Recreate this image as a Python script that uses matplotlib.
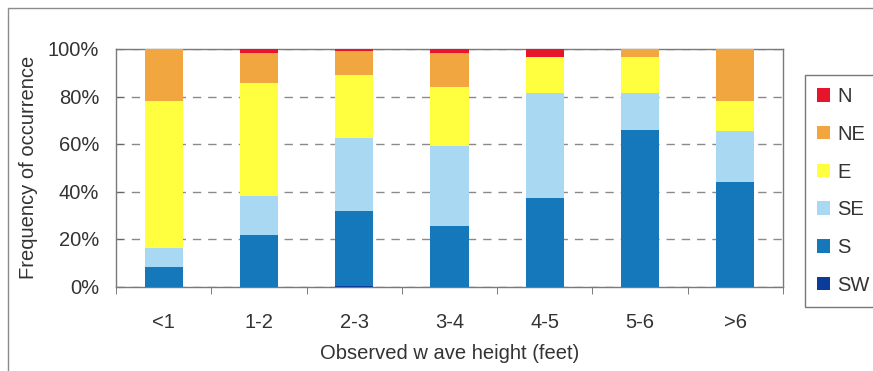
import matplotlib.pyplot as plt
import matplotlib.patches as mpatches
import numpy as np

plt.rcParams['font.family'] = ['Liberation Sans', 'DejaVu Sans']

# wave height classes and share of each wind direction (%)
heights = ["<1", "1-2", "2-3", "3-4", "4-5", "5-6", ">6"]
SW = [0.0, 0.0, 0.4, 0.0, 0.0, 0.0, 0.0]
S = [8.2, 21.6, 31.2, 25.5, 37.4, 65.9, 44.2]
SE = [8.0, 16.4, 31.1, 33.7, 44.0, 15.5, 21.4]
E = [61.9, 47.6, 26.4, 24.7, 15.1, 15.4, 12.5]
NE = [21.9, 12.6, 10.1, 14.3, 0.0, 3.2, 21.9]
N = [0.0, 1.8, 0.8, 1.8, 3.5, 0.0, 0.0]

series = [("SW", SW, "#0b3c9c"), ("S", S, "#1478ba"), ("SE", SE, "#a9d8f2"),
          ("E", E, "#ffff40"), ("NE", NE, "#f2a640"), ("N", N, "#e8142c")]

fig = plt.figure(figsize=(8.73, 3.71), dpi=100)
# outer chart border (left and top edges visible)
fig.patches.append(mpatches.Rectangle((8 / 873, -0.1), 1.2, 1 - 8 / 371 + 0.1,
                                      transform=fig.transFigure, fill=False,
                                      edgecolor="#8c8c8c", linewidth=1.0))

ax = fig.add_axes([116 / 873, 1 - 286.5 / 371, (783 - 116) / 873, (286.5 - 49) / 371])

x = np.arange(len(heights))
bottom = np.zeros(len(heights))
handles = []
for name, vals, col in series:
    v = np.array(vals) / 100
    b = ax.bar(x, v, width=0.4, bottom=bottom, color=col, edgecolor="none", label=name, zorder=3)
    handles.append(b)
    bottom += v

ax.set_xlim(-0.5, len(heights) - 0.5)
ax.set_ylim(0, 1)
ax.set_yticks(np.arange(0, 1.01, 0.2))
ax.set_yticklabels([f"{int(t * 100)}%" for t in np.arange(0, 1.01, 0.2)])
ax.set_xticks(x)
ax.set_xticklabels(heights)
ax.set_xticks(np.arange(-0.5, len(heights)), minor=True)
ax.tick_params(axis="x", which="major", length=0, pad=19, labelsize=14.5, colors="#333333")
ax.tick_params(axis="x", which="minor", length=5, direction="out", color="#666666")
ax.tick_params(axis="y", length=5, direction="in", color="#666666", labelsize=14.5,
               labelcolor="#333333", pad=12)
ax.yaxis.grid(True, linestyle=(0, (6, 5)), color="#8a8a8a", linewidth=1.0, zorder=0)
for s in ax.spines.values():
    s.set_color("#7a7a7a")
    s.set_linewidth(1.0)

ax.set_ylabel("Frequency of occurrence", fontsize=14.5, color="#333333", labelpad=7)
ax.set_xlabel("Observed w ave height (feet)", fontsize=14.5, color="#333333", labelpad=9)

leg = fig.legend(handles[::-1], [h.get_label() for h in handles[::-1]],
                 loc="upper left", bbox_to_anchor=(805 / 873, 1 - 75 / 371),
                 fontsize=14.5, frameon=True, fancybox=False, handlelength=0.65,
                 handleheight=0.65, handletextpad=0.35, labelspacing=0.93,
                 borderpad=0.6, borderaxespad=0)
leg.get_frame().set_edgecolor("#555555")
leg.get_frame().set_linewidth(1.0)
for t in leg.get_texts():
    t.set_color("#333333")

fig.savefig("out.png", dpi=100)
